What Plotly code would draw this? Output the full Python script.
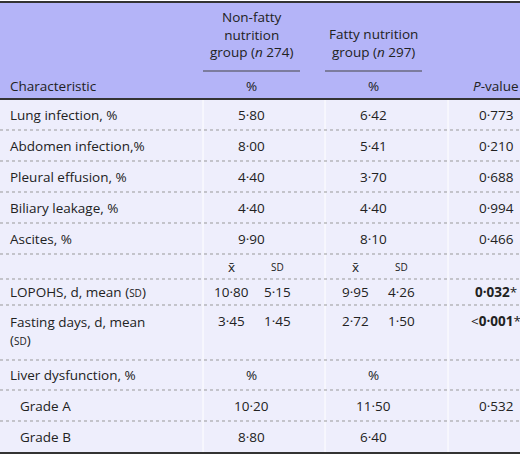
import plotly.graph_objects as go

# table content
labels = ["Lung infection, %", "Abdomen infection,%", "Pleural effusion, %",
          "Biliary leakage, %", "Ascites, %", "", "LOPOHS, d, mean (<span style='font-size:10px'>SD</span>)",
          "Fasting days, d, mean<br>(<span style='font-size:10px'>SD</span>)",
          "Liver dysfunction, %", "Grade A", "Grade B"]
indent = [0, 0, 0, 0, 0, 0, 0, 0, 0, 1, 1]
nonfatty = ["5·80", "8·00", "4·40", "4·40", "9·90", "", "", "", "%", "10·20", "8·80"]
fatty = ["6·42", "5·41", "3·70", "4·40", "8·10", "", "", "", "%", "11·50", "6·40"]
pvalue = ["0·773", "0·210", "0·688", "0·994", "0·466", "", "<b>0·032</b>*",
          "<<b>0·001</b>*", "", "0·532", ""]
# mean / sd sub columns
sub_rows = {5: ["x̄", "<span style='font-size:10px'>SD</span>", "x̄", "<span style='font-size:10px'>SD</span>"],
            6: ["10·80", "5·15", "9·95", "4·26"],
            7: ["3·45", "1·45", "2·72", "1·50"]}
row_h = [31, 31, 31, 31, 31, 25, 26, 55, 30, 31, 31]

W, H = 520, 456
hdr_bot = 99
col_x = {"label": 8, "nf": 251, "f": 373, "p": 496}
sub_x = [231, 277, 355, 401]
font = dict(family="Open Sans", size=13.5, color="#222")

fig = go.Figure()
shapes = []
ann = []

shapes.append(dict(type="rect", x0=0, x1=W, y0=2, y1=hdr_bot, fillcolor="#b4b4f8", line_width=0, layer="below"))
shapes.append(dict(type="rect", x0=0, x1=W, y0=hdr_bot, y1=453, fillcolor="#eeeefc", line_width=0, layer="below"))
for vx in [203, 325, 448]:
    shapes.append(dict(type="line", x0=vx, x1=vx, y0=hdr_bot, y1=453, line=dict(color="white", width=1)))
shapes.append(dict(type="line", x0=0, x1=W, y0=2, y1=2, line=dict(color="#333", width=2)))
shapes.append(dict(type="line", x0=0, x1=W, y0=hdr_bot, y1=hdr_bot, line=dict(color="#333", width=2)))
shapes.append(dict(type="line", x0=0, x1=W, y0=453, y1=453, line=dict(color="#333", width=2)))
shapes.append(dict(type="line", x0=203, x1=300, y0=71, y1=71, line=dict(color="#444", width=1)))
shapes.append(dict(type="line", x0=325, x1=422, y0=71, y1=71, line=dict(color="#444", width=1)))

ann.append(dict(x=col_x["nf"], y=34, text="Non-fatty<br>nutrition<br>group (<i>n</i> 274)", xanchor="center"))
ann.append(dict(x=col_x["f"], y=43, text="Fatty nutrition<br>group (<i>n</i> 297)", xanchor="center"))
ann.append(dict(x=col_x["label"], y=86, text="Characteristic", xanchor="left"))
ann.append(dict(x=col_x["nf"], y=86, text="%", xanchor="center"))
ann.append(dict(x=col_x["f"], y=86, text="%", xanchor="center"))
ann.append(dict(x=col_x["p"], y=86, text="<i>P</i>-value", xanchor="center"))

y = hdr_bot
for i, lab in enumerate(labels):
    top, y = y, y + row_h[i]
    mid = (top + y) / 2 if i != 7 else top + 16
    if i < len(labels) - 1:
        shapes.append(dict(type="line", x0=0, x1=W, y0=y, y1=y, line=dict(color="#999", width=1, dash="dot")))
    lab_y = mid if i != 7 else top + 26
    if lab:
        ann.append(dict(x=col_x["label"] + 10 * indent[i], y=lab_y, text=lab, xanchor="left", align="left"))
    if nonfatty[i]:
        ann.append(dict(x=col_x["nf"], y=mid, text=nonfatty[i], xanchor="center"))
    if fatty[i]:
        ann.append(dict(x=col_x["f"], y=mid, text=fatty[i], xanchor="center"))
    if pvalue[i]:
        ann.append(dict(x=col_x["p"], y=mid, text=pvalue[i], xanchor="center"))
    if i in sub_rows:
        for sx, t in zip(sub_x, sub_rows[i]):
            ann.append(dict(x=sx, y=mid, text=t, xanchor="center"))

for a in ann:
    a.update(xref="x", yref="y", showarrow=False, yanchor="middle", font=font)

fig.update_layout(width=W, height=H, margin=dict(l=0, r=0, t=0, b=0),
                  paper_bgcolor="white", plot_bgcolor="white",
                  shapes=shapes, annotations=ann, showlegend=False,
                  xaxis=dict(range=[0, W], visible=False, fixedrange=True),
                  yaxis=dict(range=[H, 0], visible=False, fixedrange=True))
fig.write_html("out.html", config={"displayModeBar": False},
               post_script="document.body.style.margin='0';document.body.style.overflow='hidden';")
